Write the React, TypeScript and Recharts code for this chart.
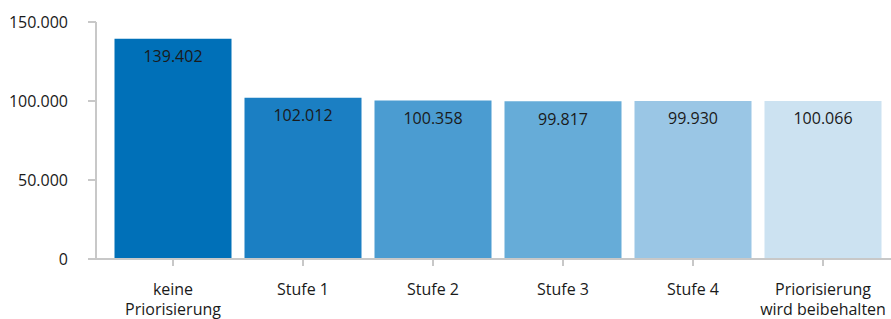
import { BarChart, Bar, XAxis, YAxis, Cell, LabelList } from "recharts";

const categories = [
  "keine\nPriorisierung",
  "Stufe 1",
  "Stufe 2",
  "Stufe 3",
  "Stufe 4",
  "Priorisierung\nwird beibehalten",
];
const values = [139402, 102012, 100358, 99817, 99930, 100066];
const barColors = ["#0070b8", "#1b7fc3", "#4b9cd1", "#66acd8", "#9ac6e5", "#cce2f1"];
const yTicks = [0, 50000, 100000, 150000];

const data = categories.map((name, i) => ({ name, value: values[i] }));

const fmt = (v: number) => String(v).replace(/\B(?=(\d{3})+(?!\d))/g, ".");

const FONT = "'Open Sans', sans-serif";

function CategoryTick(props: any) {
  const { x, y, payload } = props;
  const lines = String(payload.value).split("\n");
  return (
    <text x={x} y={y} textAnchor="middle" fill="#1a1a1a" fontSize={16} fontFamily={FONT}>
      {lines.map((line, i) => (
        <tspan key={i} x={x} dy={i === 0 ? 27 : 20}>
          {line}
        </tspan>
      ))}
    </text>
  );
}

export default function App() {
  return (
    <div style={{ position: "absolute", left: 0, top: 0, background: "#fff" }}>
      <BarChart
        width={891}
        height={319}
        data={data}
        margin={{ top: 22, right: 0, bottom: 0, left: 0 }}
        barCategoryGap="5%"
      >
        <XAxis
          dataKey="name"
          height={60}
          padding={{ left: 12, right: 3 }}
          tick={<CategoryTick />}
          tickSize={7}
          tickMargin={2}
          interval={0}
          stroke="#c8c8c8"
          strokeWidth={2}
        />
        <YAxis
          width={96}
          domain={[0, 150000]}
          ticks={yTicks}
          tickFormatter={fmt}
          tickSize={8}
          tickMargin={20}
          stroke="#c8c8c8"
          strokeWidth={2}
          tick={{ fill: "#1a1a1a", fontSize: 16, fontFamily: FONT }}
        />
        <Bar dataKey="value" isAnimationActive={false}>
          {data.map((d, i) => (
            <Cell key={d.name} fill={barColors[i]} />
          ))}
          <LabelList
            dataKey="value"
            position="insideTop"
            offset={12}
            formatter={(v: any) => fmt(Number(v))}
            style={{ fill: "#1a1a1a", fontSize: 16, fontFamily: FONT }}
          />
        </Bar>
      </BarChart>
    </div>
  );
}
